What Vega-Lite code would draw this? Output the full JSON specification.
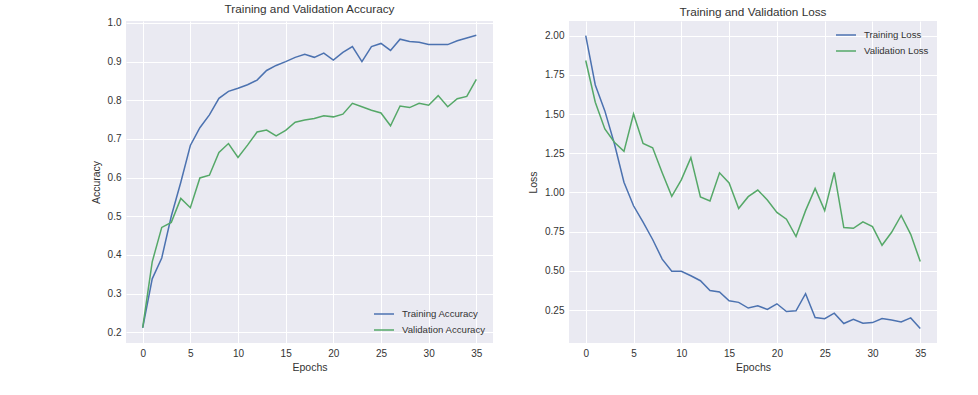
{
  "$schema": "https://vega.github.io/schema/vega-lite/v6.json",
  "background": "white",
  "padding": {"left": 91, "top": 4, "right": 5, "bottom": 5},
  "spacing": 35,
  "config": {
    "font": "Liberation Sans",
    "view": {"fill": "#EAEAF2", "stroke": null},
    "axis": {"grid": true, "gridColor": "white", "gridWidth": 1, "domain": false, "ticks": false, "labelPadding": 5, "labelFontSize": 10, "labelColor": "#333333", "titleFontSize": 10.5, "titleColor": "#333333", "titleFontWeight": "normal"},
    "title": {"fontSize": 11.75, "fontWeight": "normal", "color": "#333333", "offset": 2},
    "legend": {"labelFontSize": 9.6, "labelColor": "#333333", "symbolType": "stroke", "symbolStrokeWidth": 1.5, "symbolSize": 400, "labelOffset": 7, "rowPadding": -6, "padding": 0}
  },
  "datasets": {
    "acc": [
      {"epoch":0,"series":"Training Accuracy","value":0.211},{"epoch":1,"series":"Training Accuracy","value":0.338},{"epoch":2,"series":"Training Accuracy","value":0.392},{"epoch":3,"series":"Training Accuracy","value":0.500},{"epoch":4,"series":"Training Accuracy","value":0.588},{"epoch":5,"series":"Training Accuracy","value":0.683},{"epoch":6,"series":"Training Accuracy","value":0.729},{"epoch":7,"series":"Training Accuracy","value":0.762},{"epoch":8,"series":"Training Accuracy","value":0.805},{"epoch":9,"series":"Training Accuracy","value":0.823},{"epoch":10,"series":"Training Accuracy","value":0.831},{"epoch":11,"series":"Training Accuracy","value":0.840},{"epoch":12,"series":"Training Accuracy","value":0.852},{"epoch":13,"series":"Training Accuracy","value":0.877},{"epoch":14,"series":"Training Accuracy","value":0.890},{"epoch":15,"series":"Training Accuracy","value":0.900},{"epoch":16,"series":"Training Accuracy","value":0.911},{"epoch":17,"series":"Training Accuracy","value":0.919},{"epoch":18,"series":"Training Accuracy","value":0.911},{"epoch":19,"series":"Training Accuracy","value":0.922},{"epoch":20,"series":"Training Accuracy","value":0.904},{"epoch":21,"series":"Training Accuracy","value":0.924},{"epoch":22,"series":"Training Accuracy","value":0.939},{"epoch":23,"series":"Training Accuracy","value":0.900},{"epoch":24,"series":"Training Accuracy","value":0.939},{"epoch":25,"series":"Training Accuracy","value":0.947},{"epoch":26,"series":"Training Accuracy","value":0.929},{"epoch":27,"series":"Training Accuracy","value":0.958},{"epoch":28,"series":"Training Accuracy","value":0.952},{"epoch":29,"series":"Training Accuracy","value":0.950},{"epoch":30,"series":"Training Accuracy","value":0.944},{"epoch":31,"series":"Training Accuracy","value":0.944},{"epoch":32,"series":"Training Accuracy","value":0.944},{"epoch":33,"series":"Training Accuracy","value":0.954},{"epoch":34,"series":"Training Accuracy","value":0.961},{"epoch":35,"series":"Training Accuracy","value":0.968},
      {"epoch":0,"series":"Validation Accuracy","value":0.212},{"epoch":1,"series":"Validation Accuracy","value":0.382},{"epoch":2,"series":"Validation Accuracy","value":0.471},{"epoch":3,"series":"Validation Accuracy","value":0.484},{"epoch":4,"series":"Validation Accuracy","value":0.546},{"epoch":5,"series":"Validation Accuracy","value":0.522},{"epoch":6,"series":"Validation Accuracy","value":0.599},{"epoch":7,"series":"Validation Accuracy","value":0.606},{"epoch":8,"series":"Validation Accuracy","value":0.665},{"epoch":9,"series":"Validation Accuracy","value":0.688},{"epoch":10,"series":"Validation Accuracy","value":0.652},{"epoch":11,"series":"Validation Accuracy","value":0.684},{"epoch":12,"series":"Validation Accuracy","value":0.718},{"epoch":13,"series":"Validation Accuracy","value":0.723},{"epoch":14,"series":"Validation Accuracy","value":0.708},{"epoch":15,"series":"Validation Accuracy","value":0.722},{"epoch":16,"series":"Validation Accuracy","value":0.743},{"epoch":17,"series":"Validation Accuracy","value":0.749},{"epoch":18,"series":"Validation Accuracy","value":0.753},{"epoch":19,"series":"Validation Accuracy","value":0.760},{"epoch":20,"series":"Validation Accuracy","value":0.757},{"epoch":21,"series":"Validation Accuracy","value":0.764},{"epoch":22,"series":"Validation Accuracy","value":0.792},{"epoch":23,"series":"Validation Accuracy","value":0.783},{"epoch":24,"series":"Validation Accuracy","value":0.774},{"epoch":25,"series":"Validation Accuracy","value":0.767},{"epoch":26,"series":"Validation Accuracy","value":0.734},{"epoch":27,"series":"Validation Accuracy","value":0.785},{"epoch":28,"series":"Validation Accuracy","value":0.781},{"epoch":29,"series":"Validation Accuracy","value":0.792},{"epoch":30,"series":"Validation Accuracy","value":0.787},{"epoch":31,"series":"Validation Accuracy","value":0.812},{"epoch":32,"series":"Validation Accuracy","value":0.783},{"epoch":33,"series":"Validation Accuracy","value":0.804},{"epoch":34,"series":"Validation Accuracy","value":0.810},{"epoch":35,"series":"Validation Accuracy","value":0.854}
    ],
    "loss": [
      {"epoch":0,"series":"Training Loss","value":2.0},{"epoch":1,"series":"Training Loss","value":1.685},{"epoch":2,"series":"Training Loss","value":1.52},{"epoch":3,"series":"Training Loss","value":1.31},{"epoch":4,"series":"Training Loss","value":1.065},{"epoch":5,"series":"Training Loss","value":0.915},{"epoch":6,"series":"Training Loss","value":0.81},{"epoch":7,"series":"Training Loss","value":0.70},{"epoch":8,"series":"Training Loss","value":0.575},{"epoch":9,"series":"Training Loss","value":0.497},{"epoch":10,"series":"Training Loss","value":0.497},{"epoch":11,"series":"Training Loss","value":0.469},{"epoch":12,"series":"Training Loss","value":0.437},{"epoch":13,"series":"Training Loss","value":0.375},{"epoch":14,"series":"Training Loss","value":0.365},{"epoch":15,"series":"Training Loss","value":0.309},{"epoch":16,"series":"Training Loss","value":0.299},{"epoch":17,"series":"Training Loss","value":0.263},{"epoch":18,"series":"Training Loss","value":0.277},{"epoch":19,"series":"Training Loss","value":0.254},{"epoch":20,"series":"Training Loss","value":0.290},{"epoch":21,"series":"Training Loss","value":0.241},{"epoch":22,"series":"Training Loss","value":0.245},{"epoch":23,"series":"Training Loss","value":0.354},{"epoch":24,"series":"Training Loss","value":0.202},{"epoch":25,"series":"Training Loss","value":0.195},{"epoch":26,"series":"Training Loss","value":0.230},{"epoch":27,"series":"Training Loss","value":0.164},{"epoch":28,"series":"Training Loss","value":0.191},{"epoch":29,"series":"Training Loss","value":0.166},{"epoch":30,"series":"Training Loss","value":0.170},{"epoch":31,"series":"Training Loss","value":0.196},{"epoch":32,"series":"Training Loss","value":0.186},{"epoch":33,"series":"Training Loss","value":0.174},{"epoch":34,"series":"Training Loss","value":0.200},{"epoch":35,"series":"Training Loss","value":0.133},
      {"epoch":0,"series":"Validation Loss","value":1.841},{"epoch":1,"series":"Validation Loss","value":1.575},{"epoch":2,"series":"Validation Loss","value":1.405},{"epoch":3,"series":"Validation Loss","value":1.320},{"epoch":4,"series":"Validation Loss","value":1.262},{"epoch":5,"series":"Validation Loss","value":1.500},{"epoch":6,"series":"Validation Loss","value":1.312},{"epoch":7,"series":"Validation Loss","value":1.285},{"epoch":8,"series":"Validation Loss","value":1.125},{"epoch":9,"series":"Validation Loss","value":0.975},{"epoch":10,"series":"Validation Loss","value":1.08},{"epoch":11,"series":"Validation Loss","value":1.222},{"epoch":12,"series":"Validation Loss","value":0.971},{"epoch":13,"series":"Validation Loss","value":0.945},{"epoch":14,"series":"Validation Loss","value":1.125},{"epoch":15,"series":"Validation Loss","value":1.060},{"epoch":16,"series":"Validation Loss","value":0.897},{"epoch":17,"series":"Validation Loss","value":0.973},{"epoch":18,"series":"Validation Loss","value":1.015},{"epoch":19,"series":"Validation Loss","value":0.952},{"epoch":20,"series":"Validation Loss","value":0.873},{"epoch":21,"series":"Validation Loss","value":0.829},{"epoch":22,"series":"Validation Loss","value":0.719},{"epoch":23,"series":"Validation Loss","value":0.884},{"epoch":24,"series":"Validation Loss","value":1.025},{"epoch":25,"series":"Validation Loss","value":0.884},{"epoch":26,"series":"Validation Loss","value":1.128},{"epoch":27,"series":"Validation Loss","value":0.776},{"epoch":28,"series":"Validation Loss","value":0.771},{"epoch":29,"series":"Validation Loss","value":0.813},{"epoch":30,"series":"Validation Loss","value":0.782},{"epoch":31,"series":"Validation Loss","value":0.663},{"epoch":32,"series":"Validation Loss","value":0.746},{"epoch":33,"series":"Validation Loss","value":0.853},{"epoch":34,"series":"Validation Loss","value":0.733},{"epoch":35,"series":"Validation Loss","value":0.559}
    ]
  },
  "resolve": {"scale": {"color": "independent"}, "legend": {"color": "independent"}},
  "hconcat": [
    {
      "width": 367,
      "height": 322,
      "title": "Training and Validation Accuracy",
      "data": {"name": "acc"},
      "mark": {"type": "line", "strokeWidth": 1.5},
      "encoding": {
        "x": {"field": "epoch", "type": "quantitative", "title": "Epochs", "scale": {"domain": [-1.75, 36.75], "nice": false, "zero": false}, "axis": {"values": [0,5,10,15,20,25,30,35], "titlePadding": 4}},
        "y": {"field": "value", "type": "quantitative", "title": "Accuracy", "scale": {"domain": [0.172, 1.005], "nice": false, "zero": false}, "axis": {"values": [0.2,0.3,0.4,0.5,0.6,0.7,0.8,0.9,1.0], "format": ".1f", "titlePadding": 6}},
        "color": {"field": "series", "type": "nominal", "scale": {"domain": ["Training Accuracy", "Validation Accuracy"], "range": ["#4C72B0", "#55A868"]}, "legend": {"title": null, "orient": "none", "legendX": 247, "legendY": 282}}
      }
    },
    {
      "width": 368,
      "height": 322,
      "title": "Training and Validation Loss",
      "data": {"name": "loss"},
      "mark": {"type": "line", "strokeWidth": 1.5},
      "encoding": {
        "x": {"field": "epoch", "type": "quantitative", "title": "Epochs", "scale": {"domain": [-1.75, 36.75], "nice": false, "zero": false}, "axis": {"values": [0,5,10,15,20,25,30,35], "titlePadding": 4}},
        "y": {"field": "value", "type": "quantitative", "title": "Loss", "scale": {"domain": [0.040, 2.093], "nice": false, "zero": false}, "axis": {"values": [0.25,0.5,0.75,1.0,1.25,1.5,1.75,2.0], "format": ".2f", "titlePadding": 6}},
        "color": {"field": "series", "type": "nominal", "scale": {"domain": ["Training Loss", "Validation Loss"], "range": ["#4C72B0", "#55A868"]}, "legend": {"title": null, "orient": "none", "legendX": 266, "legendY": 3}}
      }
    }
  ]
}
